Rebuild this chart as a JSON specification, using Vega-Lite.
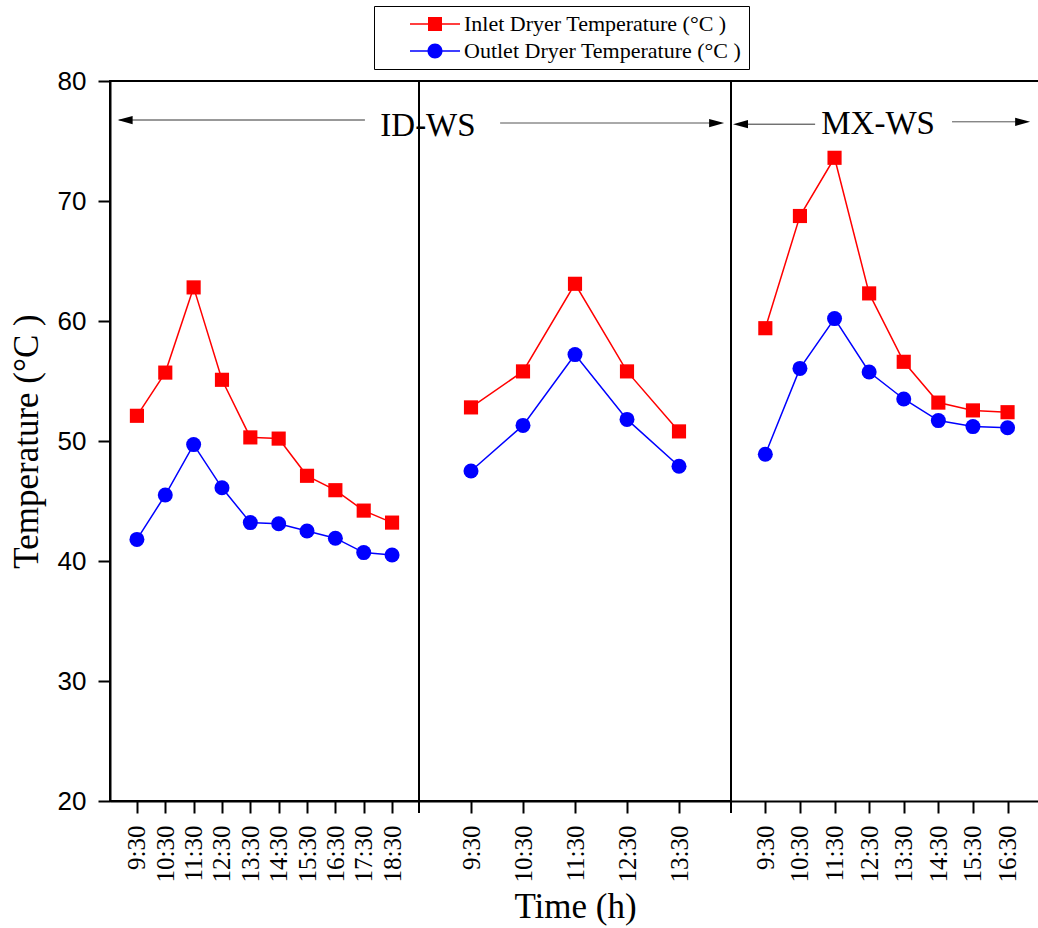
{
  "$schema": "https://vega.github.io/schema/vega-lite/v6.json",
  "background": "white",
  "padding": {"left": 8, "top": 5, "right": 0, "bottom": 0},
  "spacing": 0,
  "bounds": "flush",
  "config": {
    "font": "Liberation Serif",
    "view": {"stroke": "black", "strokeWidth": 2},
    "axis": {"domainColor": "black", "domainWidth": 2, "tickColor": "black", "tickWidth": 2, "tickSize": 12, "grid": false, "labelColor": "black", "titleColor": "black"}
  },
  "datasets": {
    "temps": [
      {"panel": "A", "time": "9:30", "series": "Inlet Dryer Temperature (°C )", "temp": 52.1},
      {"panel": "A", "time": "10:30", "series": "Inlet Dryer Temperature (°C )", "temp": 55.7},
      {"panel": "A", "time": "11:30", "series": "Inlet Dryer Temperature (°C )", "temp": 62.8},
      {"panel": "A", "time": "12:30", "series": "Inlet Dryer Temperature (°C )", "temp": 55.1},
      {"panel": "A", "time": "13:30", "series": "Inlet Dryer Temperature (°C )", "temp": 50.3},
      {"panel": "A", "time": "14:30", "series": "Inlet Dryer Temperature (°C )", "temp": 50.2},
      {"panel": "A", "time": "15:30", "series": "Inlet Dryer Temperature (°C )", "temp": 47.1},
      {"panel": "A", "time": "16:30", "series": "Inlet Dryer Temperature (°C )", "temp": 45.9},
      {"panel": "A", "time": "17:30", "series": "Inlet Dryer Temperature (°C )", "temp": 44.2},
      {"panel": "A", "time": "18:30", "series": "Inlet Dryer Temperature (°C )", "temp": 43.2},
      {"panel": "A", "time": "9:30", "series": "Outlet Dryer Temperature (°C )", "temp": 41.8},
      {"panel": "A", "time": "10:30", "series": "Outlet Dryer Temperature (°C )", "temp": 45.5},
      {"panel": "A", "time": "11:30", "series": "Outlet Dryer Temperature (°C )", "temp": 49.7},
      {"panel": "A", "time": "12:30", "series": "Outlet Dryer Temperature (°C )", "temp": 46.1},
      {"panel": "A", "time": "13:30", "series": "Outlet Dryer Temperature (°C )", "temp": 43.2},
      {"panel": "A", "time": "14:30", "series": "Outlet Dryer Temperature (°C )", "temp": 43.1},
      {"panel": "A", "time": "15:30", "series": "Outlet Dryer Temperature (°C )", "temp": 42.5},
      {"panel": "A", "time": "16:30", "series": "Outlet Dryer Temperature (°C )", "temp": 41.9},
      {"panel": "A", "time": "17:30", "series": "Outlet Dryer Temperature (°C )", "temp": 40.7},
      {"panel": "A", "time": "18:30", "series": "Outlet Dryer Temperature (°C )", "temp": 40.5},
      {"panel": "B", "time": "9:30", "series": "Inlet Dryer Temperature (°C )", "temp": 52.8},
      {"panel": "B", "time": "10:30", "series": "Inlet Dryer Temperature (°C )", "temp": 55.8},
      {"panel": "B", "time": "11:30", "series": "Inlet Dryer Temperature (°C )", "temp": 63.1},
      {"panel": "B", "time": "12:30", "series": "Inlet Dryer Temperature (°C )", "temp": 55.8},
      {"panel": "B", "time": "13:30", "series": "Inlet Dryer Temperature (°C )", "temp": 50.8},
      {"panel": "B", "time": "9:30", "series": "Outlet Dryer Temperature (°C )", "temp": 47.5},
      {"panel": "B", "time": "10:30", "series": "Outlet Dryer Temperature (°C )", "temp": 51.3},
      {"panel": "B", "time": "11:30", "series": "Outlet Dryer Temperature (°C )", "temp": 57.2},
      {"panel": "B", "time": "12:30", "series": "Outlet Dryer Temperature (°C )", "temp": 51.8},
      {"panel": "B", "time": "13:30", "series": "Outlet Dryer Temperature (°C )", "temp": 47.9},
      {"panel": "C", "time": "9:30", "series": "Inlet Dryer Temperature (°C )", "temp": 59.4},
      {"panel": "C", "time": "10:30", "series": "Inlet Dryer Temperature (°C )", "temp": 68.75},
      {"panel": "C", "time": "11:30", "series": "Inlet Dryer Temperature (°C )", "temp": 73.6},
      {"panel": "C", "time": "12:30", "series": "Inlet Dryer Temperature (°C )", "temp": 62.3},
      {"panel": "C", "time": "13:30", "series": "Inlet Dryer Temperature (°C )", "temp": 56.6},
      {"panel": "C", "time": "14:30", "series": "Inlet Dryer Temperature (°C )", "temp": 53.2},
      {"panel": "C", "time": "15:30", "series": "Inlet Dryer Temperature (°C )", "temp": 52.55},
      {"panel": "C", "time": "16:30", "series": "Inlet Dryer Temperature (°C )", "temp": 52.4},
      {"panel": "C", "time": "9:30", "series": "Outlet Dryer Temperature (°C )", "temp": 48.9},
      {"panel": "C", "time": "10:30", "series": "Outlet Dryer Temperature (°C )", "temp": 56.05},
      {"panel": "C", "time": "11:30", "series": "Outlet Dryer Temperature (°C )", "temp": 60.2},
      {"panel": "C", "time": "12:30", "series": "Outlet Dryer Temperature (°C )", "temp": 55.75},
      {"panel": "C", "time": "13:30", "series": "Outlet Dryer Temperature (°C )", "temp": 53.5},
      {"panel": "C", "time": "14:30", "series": "Outlet Dryer Temperature (°C )", "temp": 51.7},
      {"panel": "C", "time": "15:30", "series": "Outlet Dryer Temperature (°C )", "temp": 51.2},
      {"panel": "C", "time": "16:30", "series": "Outlet Dryer Temperature (°C )", "temp": 51.1}
    ],
    "one": [{}]
  },
  "hconcat": [
    {
      "width": 309,
      "height": 720,
      "view": {"stroke": "black", "strokeWidth": 2},
      "layer": [
        {
          "data": {"name": "temps"},
          "transform": [{"filter": "datum.panel === 'A'"}],
          "encoding": {
            "x": {"field": "time", "type": "ordinal", "sort": null, "scale": {"type": "point", "padding": 0.95}, "axis": {"title": null, "labelAngle": -90, "labelFontSize": 25, "labelPadding": 12}},
            "y": {"field": "temp", "type": "quantitative", "scale": {"domain": [20, 80], "nice": false, "zero": false}, "axis": {"values": [20, 30, 40, 50, 60, 70, 80], "title": "Temperature (°C )", "titleFontSize": 35, "titleFontWeight": "normal", "titlePadding": 13, "labelFont": "Liberation Sans", "labelFontSize": 26, "labelPadding": 12}},
            "color": {"field": "series", "type": "nominal", "scale": {"domain": ["Inlet Dryer Temperature (°C )", "Outlet Dryer Temperature (°C )"], "range": ["#ff0000", "#0000ff"]}}
          },
          "layer": [
            {
              "mark": {"type": "line", "strokeWidth": 1.5},
              "encoding": {
                "color": {
                  "field": "series", "type": "nominal",
                  "scale": {"domain": ["Inlet Dryer Temperature (°C )", "Outlet Dryer Temperature (°C )"], "range": ["#ff0000", "#0000ff"]},
                  "legend": {
                    "title": null, "orient": "none", "legendX": 264, "legendY": -75, "direction": "vertical",
                    "strokeColor": "black", "fillColor": "white", "padding": 7,
                    "labelFont": "Liberation Serif", "labelFontSize": 22, "labelColor": "black", "labelLimit": 500,
                    "symbolSize": 400, "symbolOffset": 43, "labelOffset": 18, "rowPadding": 5, "symbolStrokeWidth": 0, "symbolOpacity": 1,
                    "encoding": {"symbols": {
                      "shape": {"value": {"expr": "datum.value === 'Inlet Dryer Temperature (°C )' ? 'M-2.5,-0.075H2.5V0.075H-2.5Z M-0.7,-0.7H0.7V0.7H-0.7Z' : 'M-2.5,-0.075H2.5V0.075H-2.5Z M-0.75,0A0.75,0.75 0 1,1 0.75,0A0.75,0.75 0 1,1 -0.75,0Z'"}},
                      "fill": {"value": {"expr": "datum.value === 'Inlet Dryer Temperature (°C )' ? '#ff0000' : '#0000ff'"}},
                      "stroke": {"value": "transparent"},
                      "opacity": {"value": 1}
                    }}
                  }
                }
              }
            },
            {
              "transform": [{"filter": "datum.series === 'Inlet Dryer Temperature (°C )'"}],
              "mark": {"type": "point", "shape": "square", "filled": true, "opacity": 1, "size": 200, "strokeWidth": 0}
            },
            {
              "transform": [{"filter": "datum.series === 'Outlet Dryer Temperature (°C )'"}],
              "mark": {"type": "point", "shape": "circle", "filled": true, "opacity": 1, "size": 225, "strokeWidth": 0}
            }
          ]
        },
        {
          "data": {"name": "one"},
          "mark": {"type": "rule", "color": "#333", "strokeWidth": 1},
          "encoding": {
            "x": {"datum": 0.03, "type": "quantitative", "scale": {"domain": [0, 1]}, "axis": null},
            "x2": {"datum": 0.825},
            "y": {"datum": 76.75, "type": "quantitative", "scale": {"domain": [20, 80], "nice": false, "zero": false}}
          }
        },
        {
          "data": {"name": "one"},
          "mark": {"type": "point", "filled": true, "opacity": 1, "color": "black", "strokeWidth": 0, "size": 225, "shape": "M-1,0L1,-0.55L1,0.55Z"},
          "encoding": {
            "x": {"datum": 0.049, "type": "quantitative", "scale": {"domain": [0, 1]}, "axis": null},
            "y": {"datum": 76.75, "type": "quantitative"}
          }
        },
        {
          "data": {"name": "one"},
          "mark": {"type": "text", "text": "ID-WS", "font": "Liberation Serif", "fontSize": 33, "color": "black", "align": "center", "baseline": "alphabetic"},
          "encoding": {
            "x": {"datum": 1.029, "type": "quantitative", "scale": {"domain": [0, 1]}, "axis": null},
            "y": {"datum": 75.42, "type": "quantitative"}
          }
        }
      ],
      "resolve": {"scale": {"x": "independent"}}
    },
    {
      "width": 312,
      "height": 720,
      "view": {"stroke": "black", "strokeWidth": 2},
      "layer": [
        {
          "data": {"name": "temps"},
          "transform": [{"filter": "datum.panel === 'B'"}],
          "encoding": {
            "x": {"field": "time", "type": "ordinal", "sort": null, "scale": {"type": "point", "padding": 1}, "axis": {"title": "Time (h)", "titleFontSize": 35, "titleFontWeight": "normal", "titlePadding": 8, "labelAngle": -90, "labelFontSize": 25, "labelPadding": 12}},
            "y": {"field": "temp", "type": "quantitative", "scale": {"domain": [20, 80], "nice": false, "zero": false}, "axis": null},
            "color": {"field": "series", "type": "nominal", "scale": {"domain": ["Inlet Dryer Temperature (°C )", "Outlet Dryer Temperature (°C )"], "range": ["#ff0000", "#0000ff"]}}
          },
          "layer": [
            {"mark": {"type": "line", "strokeWidth": 1.5}},
            {
              "transform": [{"filter": "datum.series === 'Inlet Dryer Temperature (°C )'"}],
              "mark": {"type": "point", "shape": "square", "filled": true, "opacity": 1, "size": 200, "strokeWidth": 0}
            },
            {
              "transform": [{"filter": "datum.series === 'Outlet Dryer Temperature (°C )'"}],
              "mark": {"type": "point", "shape": "circle", "filled": true, "opacity": 1, "size": 225, "strokeWidth": 0}
            }
          ]
        },
        {
          "data": {"name": "one"},
          "mark": {"type": "rule", "color": "#555", "strokeWidth": 1},
          "encoding": {
            "x": {"datum": 0.26, "type": "quantitative", "scale": {"domain": [0, 1]}, "axis": null},
            "x2": {"datum": 0.955},
            "y": {"datum": 76.5, "type": "quantitative", "scale": {"domain": [20, 80], "nice": false, "zero": false}}
          }
        },
        {
          "data": {"name": "one"},
          "mark": {"type": "point", "filled": true, "opacity": 1, "color": "black", "strokeWidth": 0, "size": 225, "shape": "M1,0L-1,-0.55L-1,0.55Z"},
          "encoding": {
            "x": {"datum": 0.954, "type": "quantitative", "scale": {"domain": [0, 1]}, "axis": null},
            "y": {"datum": 76.5, "type": "quantitative"}
          }
        },
        {
          "data": {"name": "one"},
          "mark": {"type": "rule", "color": "black", "strokeWidth": 2, "clip": false},
          "encoding": {
            "x": {"datum": 0, "type": "quantitative", "scale": {"domain": [0, 1]}, "axis": null},
            "y": {"datum": 20, "type": "quantitative"},
            "y2": {"datum": 19}
          }
        },
        {
          "data": {"name": "one"},
          "mark": {"type": "rule", "color": "black", "strokeWidth": 2, "clip": false},
          "encoding": {
            "x": {"datum": 1, "type": "quantitative", "scale": {"domain": [0, 1]}, "axis": null},
            "y": {"datum": 20, "type": "quantitative"},
            "y2": {"datum": 19}
          }
        }
      ],
      "resolve": {"scale": {"x": "independent"}}
    },
    {
      "width": 307,
      "height": 720,
      "view": {"stroke": null},
      "layer": [
        {
          "data": {"name": "temps"},
          "transform": [{"filter": "datum.panel === 'C'"}],
          "encoding": {
            "x": {"field": "time", "type": "ordinal", "sort": null, "scale": {"type": "point", "padding": 0.936, "align": 0.53}, "axis": {"title": null, "labelAngle": -90, "labelFontSize": 25, "labelPadding": 12}},
            "y": {"field": "temp", "type": "quantitative", "scale": {"domain": [20, 80], "nice": false, "zero": false}, "axis": null},
            "color": {"field": "series", "type": "nominal", "scale": {"domain": ["Inlet Dryer Temperature (°C )", "Outlet Dryer Temperature (°C )"], "range": ["#ff0000", "#0000ff"]}}
          },
          "layer": [
            {"mark": {"type": "line", "strokeWidth": 1.5}},
            {
              "transform": [{"filter": "datum.series === 'Inlet Dryer Temperature (°C )'"}],
              "mark": {"type": "point", "shape": "square", "filled": true, "opacity": 1, "size": 200, "strokeWidth": 0}
            },
            {
              "transform": [{"filter": "datum.series === 'Outlet Dryer Temperature (°C )'"}],
              "mark": {"type": "point", "shape": "circle", "filled": true, "opacity": 1, "size": 225, "strokeWidth": 0}
            }
          ]
        },
        {
          "data": {"name": "one"},
          "mark": {"type": "rule", "color": "black", "strokeWidth": 2},
          "encoding": {
            "y": {"datum": 80, "type": "quantitative", "scale": {"domain": [20, 80], "nice": false, "zero": false}}
          }
        },
        {
          "data": {"name": "one"},
          "mark": {"type": "rule", "color": "#333", "strokeWidth": 1},
          "encoding": {
            "x": {"datum": 0.055, "type": "quantitative", "scale": {"domain": [0, 1]}, "axis": null},
            "x2": {"datum": 0.274},
            "y": {"datum": 76.4, "type": "quantitative"}
          }
        },
        {
          "data": {"name": "one"},
          "mark": {"type": "rule", "color": "#555", "strokeWidth": 1},
          "encoding": {
            "x": {"datum": 0.72, "type": "quantitative", "scale": {"domain": [0, 1]}, "axis": null},
            "x2": {"datum": 0.93},
            "y": {"datum": 76.6, "type": "quantitative"}
          }
        },
        {
          "data": {"name": "one"},
          "mark": {"type": "point", "filled": true, "opacity": 1, "color": "black", "strokeWidth": 0, "size": 225, "shape": "M-1,0L1,-0.55L1,0.55Z"},
          "encoding": {
            "x": {"datum": 0.031, "type": "quantitative", "scale": {"domain": [0, 1]}, "axis": null},
            "y": {"datum": 76.4, "type": "quantitative"}
          }
        },
        {
          "data": {"name": "one"},
          "mark": {"type": "point", "filled": true, "opacity": 1, "color": "black", "strokeWidth": 0, "size": 225, "shape": "M1,0L-1,-0.55L-1,0.55Z"},
          "encoding": {
            "x": {"datum": 0.95, "type": "quantitative", "scale": {"domain": [0, 1]}, "axis": null},
            "y": {"datum": 76.6, "type": "quantitative"}
          }
        },
        {
          "data": {"name": "one"},
          "mark": {"type": "text", "text": "MX-WS", "font": "Liberation Serif", "fontSize": 33, "color": "black", "align": "center", "baseline": "alphabetic"},
          "encoding": {
            "x": {"datum": 0.479, "type": "quantitative", "scale": {"domain": [0, 1]}, "axis": null},
            "y": {"datum": 75.55, "type": "quantitative"}
          }
        }
      ],
      "resolve": {"scale": {"x": "independent"}}
    }
  ]
}
